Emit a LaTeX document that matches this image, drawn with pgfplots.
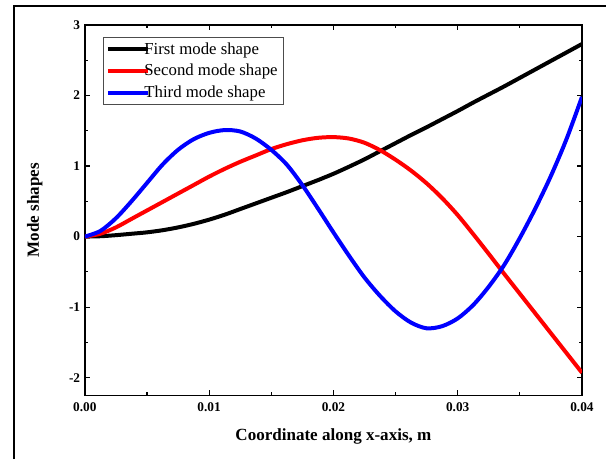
\documentclass[border=0pt]{standalone}
\usepackage{fontspec}
\setmainfont{Liberation Serif}
\usepackage{pgfplots}
\pgfplotsset{compat=1.18}

\pgfplotstableread{
x        first  second  third
0.00000  0.000  0.000   0.000
0.00125  0.005  0.040   0.080
0.00250  0.020  0.130   0.260
0.00375  0.040  0.250   0.500
0.00500  0.060  0.370   0.760
0.00625  0.090  0.490   1.020
0.00750  0.130  0.610   1.230
0.00875  0.180  0.730   1.380
0.01000  0.240  0.850   1.470
0.01125  0.310  0.960   1.510
0.01250  0.390  1.060   1.490
0.01375  0.470  1.150   1.390
0.01500  0.550  1.240   1.230
0.01625  0.630  1.310   1.020
0.01750  0.715  1.365   0.730
0.01875  0.800  1.400   0.400
0.02000  0.890  1.410   0.060
0.02125  0.990  1.390  -0.270
0.02250  1.095  1.330  -0.580
0.02375  1.210  1.225  -0.840
0.02500  1.325  1.090  -1.060
0.02625  1.440  0.935  -1.220
0.02750  1.550  0.755  -1.300
0.02875  1.665  0.545  -1.270
0.03000  1.780  0.305  -1.160
0.03125  1.900  0.035  -0.970
0.03250  2.015 -0.245  -0.710
0.03375  2.130 -0.530  -0.400
0.03500  2.250 -0.810  -0.020
0.03625  2.370 -1.090   0.400
0.03750  2.490 -1.370   0.860
0.03875  2.610 -1.650   1.380
0.04000  2.730 -1.930   1.980
}\modes

\begin{document}
\begin{tikzpicture}
\begin{axis}[
  at={(0,0)}, anchor=south west,
  scale only axis,
  width=373.5pt, height=278.25pt,
  xmin=0, xmax=0.04, ymin=-2.25, ymax=3,
  xtick={0,0.01,0.02,0.03,0.04},
  xticklabels={0.00,0.01,0.02,0.03,0.04},
  ytick={-2,-1,0,1,2,3},
  yticklabels={-2,-1,0,1,2,3},
  scaled x ticks=false,
  minor tick num=1,
  tick align=inside,
  major tick length=4pt, minor tick length=2.4pt,
  every tick/.style={black, line width=0.9pt},
  axis line style={line width=1pt},
  ticklabel style={font=\fontsize{10}{12}\selectfont\bfseries},
  xticklabel style={yshift=-2pt},
  xlabel={Coordinate along x-axis, m},
  ylabel={Mode shapes},
  label style={font=\fontsize{12.8}{15}\selectfont\bfseries},
  xlabel style={yshift=-6pt},
  ylabel style={yshift=13pt},
  legend style={at={(rel axis cs:0.036,0.968)}, anchor=north west,
    font=\fontsize{12.6}{15}\selectfont, draw=black!70, line width=0.6pt,
    inner xsep=2pt, inner ysep=2pt, row sep=2pt,
    cells={anchor=west},
    /tikz/every even column/.append style={column sep=0pt}},
  legend image code/.code={\draw[#1, line width=3pt] (0pt,0pt) -- (30pt,0pt);},
]
\addplot[black, line width=3pt, smooth] table[x=x, y=first] {\modes};
\addlegendentry{\hspace{-6pt}First mode shape}
\addplot[red, line width=3pt, smooth] table[x=x, y=second] {\modes};
\addlegendentry{\hspace{-6pt}Second mode shape}
\addplot[blue, line width=3pt, smooth] table[x=x, y=third] {\modes};
\addlegendentry{\hspace{-6pt}Third mode shape}
\end{axis}
% outer frame as in the reference figure
\draw[line width=1.6pt] (-53.25pt,-48pt) -- (-53.25pt,292.5pt) -- (391.5pt,292.5pt);
\useasboundingbox (-63.75pt,-48pt) rectangle (391.5pt,297pt);
\end{tikzpicture}
\end{document}
